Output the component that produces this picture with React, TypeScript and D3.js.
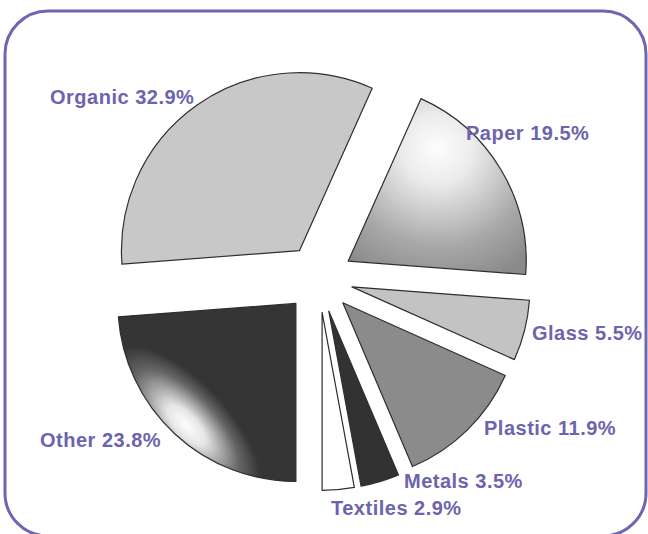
import React from "react";
import * as d3 from "d3";

// waste composition, clockwise from 6 o'clock
const categories = ["Other", "Organic", "Paper", "Glass", "Plastic", "Metals", "Textiles"];
const shares = [23.8, 32.9, 19.5, 5.5, 11.9, 3.5, 2.9];

// label anchors (left x, baseline y), hand placed like the original
const labelAnchors: [number, number][] = [
  [40, 446.5],
  [50, 103.5],
  [466, 139.5],
  [532, 339.5],
  [484, 435],
  [404, 487.5],
  [331, 515],
];

const W = 648;
const H = 534;
const cx = 319;
const cy = 278.5;
const radius = 178;
const explode = 34;

const fills: Record<string, string> = {
  Other: "url(#otherGrad)",
  Organic: "#c8c8c8",
  Paper: "url(#paperGrad)",
  Glass: "#c3c3c3",
  Plastic: "#8b8b8b",
  Metals: "#323232",
  Textiles: "#ffffff",
};

const labelColor = "#6c64ad";

export default function App() {
  const data = categories.map((c, i) => ({ name: c, value: shares[i] }));

  const pie = d3
    .pie<{ name: string; value: number }>()
    .sort(null)
    .value((d) => d.value)
    .startAngle(Math.PI)
    .endAngle(3 * Math.PI);

  const arc = d3
    .arc<d3.PieArcDatum<{ name: string; value: number }>>()
    .innerRadius(0)
    .outerRadius(radius);

  const slices = pie(data);

  // highlight on the "Other" slice: a band hugging the rim (slice-local coords)
  const hlAngle = (222 * Math.PI) / 180;
  const hlDist = radius * 0.92;
  const hlX = Math.sin(hlAngle) * hlDist;
  const hlY = -Math.cos(hlAngle) * hlDist;

  return (
    <svg
      width={W}
      height={H}
      style={{ position: "absolute", left: 0, top: 0, display: "block", background: "#fff" }}
    >
      <defs>
        <radialGradient id="paperGrad" cx="0.5" cy="0.3" r="0.78" fx="0.5" fy="0.28">
          <stop offset="0" stopColor="#fdfdfd" />
          <stop offset="0.25" stopColor="#ececec" />
          <stop offset="0.7" stopColor="#a8a8a8" />
          <stop offset="1" stopColor="#8a8a8a" />
        </radialGradient>
        <radialGradient
          id="otherGrad"
          gradientUnits="userSpaceOnUse"
          cx="0"
          cy="0"
          r="1"
          gradientTransform={`translate(${hlX},${hlY}) rotate(47) scale(100,42)`}
        >
          <stop offset="0" stopColor="#fdfdfd" />
          <stop offset="0.25" stopColor="#e6e6e6" />
          <stop offset="0.7" stopColor="#666666" />
          <stop offset="1" stopColor="#353535" />
        </radialGradient>
      </defs>

      <rect
        x={5}
        y={11}
        width={641}
        height={525}
        rx={43}
        ry={43}
        fill="none"
        stroke="#6e66b3"
        strokeWidth={3}
      />

      <g transform={`translate(${cx},${cy})`}>
        {slices.map((s) => {
          const mid = (s.startAngle + s.endAngle) / 2;
          const dx = Math.sin(mid) * explode;
          const dy = -Math.cos(mid) * explode;
          return (
            <path
              key={s.data.name}
              d={arc(s) || ""}
              transform={`translate(${dx},${dy})`}
              fill={fills[s.data.name]}
              stroke="#2e2e2e"
              strokeWidth={1.2}
              strokeLinejoin="round"
            />
          );
        })}
      </g>

      {slices.map((s, i) => (
        <text
          key={"l" + s.data.name}
          x={labelAnchors[i][0]}
          y={labelAnchors[i][1]}
          fill={labelColor}
          fontFamily="'Liberation Sans', Arial, sans-serif"
          fontWeight="bold"
          fontSize={20}
          letterSpacing={0.5}
        >
          {`${s.data.name} ${s.data.value}%`}
        </text>
      ))}
    </svg>
  );
}
